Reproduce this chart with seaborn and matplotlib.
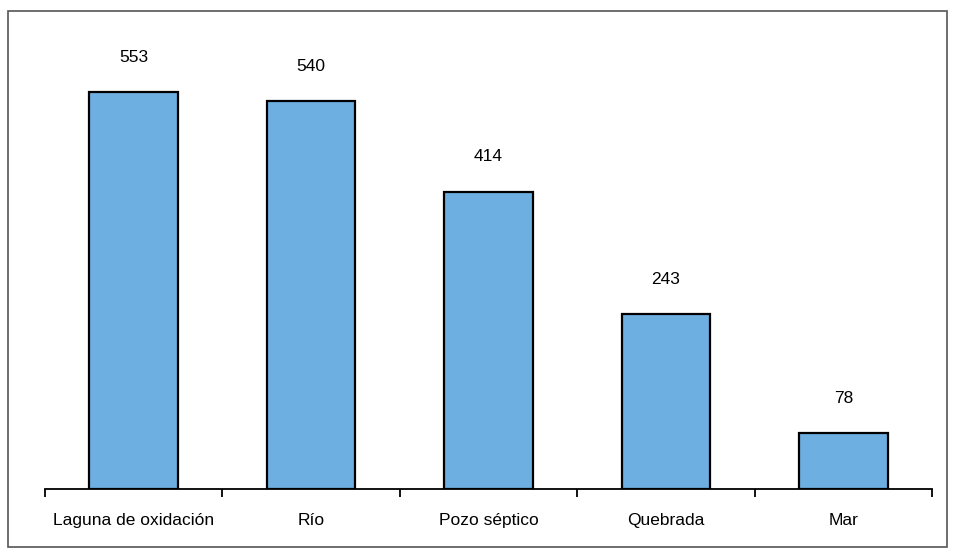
import matplotlib
matplotlib.use("Agg")
import matplotlib.pyplot as plt
import seaborn as sns
import pandas as pd
from matplotlib.patches import Rectangle

categories = ["Laguna de oxidación", "Río", "Pozo séptico", "Quebrada", "Mar"]
values = [553, 540, 414, 243, 78]

sns.set_style("white")
plt.rcParams['font.family'] = ['Liberation Sans', 'DejaVu Sans']
plt.rcParams['text.color'] = 'black'
plt.rcParams['xtick.color'] = 'black'
plt.rcParams['xtick.labelcolor'] = 'black'

W, H = 956, 555
fig = plt.figure(figsize=(W/100, H/100), dpi=100)
ax = fig.add_axes([45/W, 66/H, (932-45)/W, (489-58)/H])

df = pd.DataFrame({"cat": categories, "val": values})
sns.barplot(data=df, x="cat", y="val", color="#6DAFE0", saturation=1,
            edgecolor="black", linewidth=1.6, width=0.5, ax=ax)

ax.set_xlim(-0.5, len(categories) - 0.5)
ax.set_ylim(0, 600)
for s in ["top", "right", "left"]:
    ax.spines[s].set_visible(False)
ax.spines["bottom"].set_linewidth(1.3)
ax.spines["bottom"].set_color("black")
ax.set_yticks([])
ax.set_xlabel("")
ax.set_ylabel("")
ax.tick_params(axis="x", which="major", bottom=True, length=0, pad=17,
               labelsize=12.5, labelcolor="black")
ax.set_xticks([i - 0.5 for i in range(len(categories) + 1)], minor=True)
ax.tick_params(axis="x", which="minor", bottom=True, length=6, width=1.3,
               direction="out", color="black")

for i, v in enumerate(values):
    ax.annotate(str(v), (i, v), xytext=(0, 25), textcoords="offset points",
                ha="center", va="center", fontsize=12.5, color="black")

fig.patches.append(Rectangle((8/W, 8/H), (947-8)/W, (544-8)/H, transform=fig.transFigure,
                             fill=False, edgecolor="#555555", linewidth=1.2))

fig.savefig("out.png", dpi=100)
